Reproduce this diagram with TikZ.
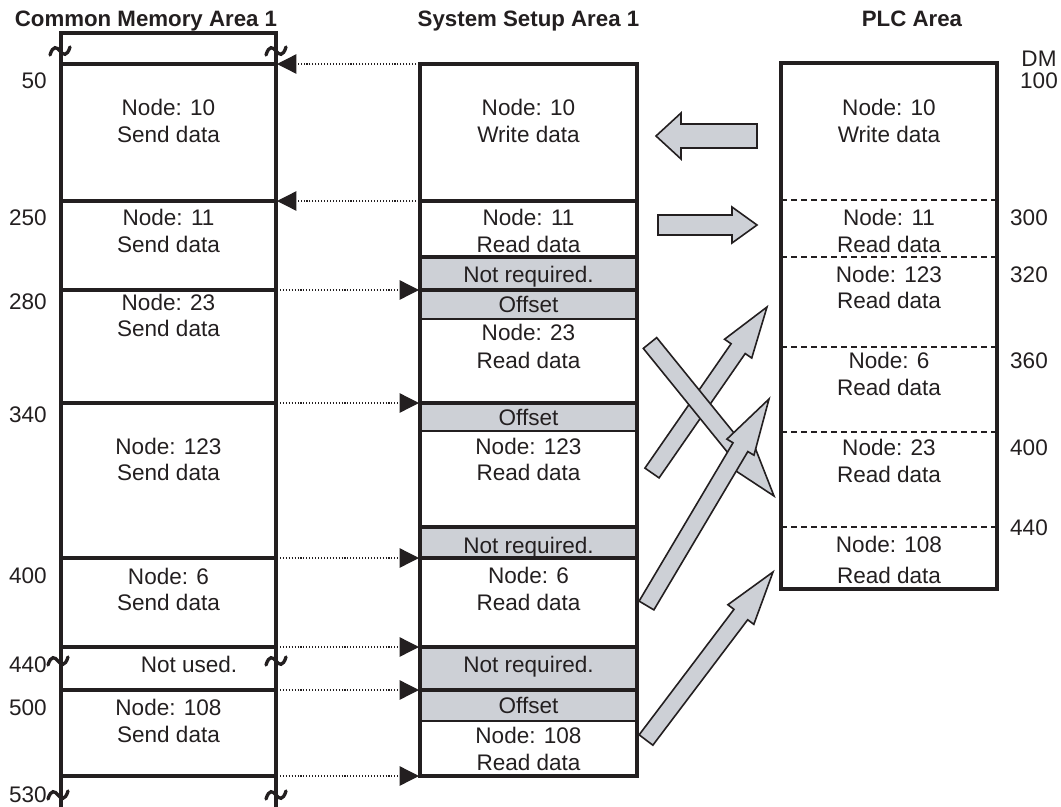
\documentclass[tikz,border=0pt]{standalone}
\usepackage{fontspec}
\setmainfont{Liberation Sans}
\usetikzlibrary{arrows.meta,calc}
\definecolor{ink}{RGB}{35,31,32}
\definecolor{fillg}{RGB}{205,208,214}
\newcommand\blockarr[5]{%
  \path ($(#2)!#5!(#1)$) coordinate (nk);
  \draw[blk] ($(#1)!#3!90:(#2)$) -- ($(nk)!#3!90:(#2)$) -- ($(nk)!#4!90:(#2)$) -- (#2)
    -- ($(nk)!#4!-90:(#2)$) -- ($(nk)!#3!-90:(#2)$) -- ($(#1)!#3!-90:(#2)$) -- cycle;}
\newcommand\tld[2]{%
  \draw[tldst] (#1-10,#2+4) .. controls (#1-7,#2-6) and (#1-3,#2-4) .. (#1,#2)
    .. controls (#1+3,#2+4) and (#1+7,#2+6) .. (#1+10,#2-4);}
\begin{document}
\begin{tikzpicture}[x=0.75pt,y=-0.75pt,
  every node/.style={text=ink,inner sep=0pt,font=\fontsize{16.9}{20}\selectfont},
  txt/.style={anchor=base},
  lbl/.style={anchor=base east},
  ttl/.style={anchor=base,font=\bfseries\fontsize{16.7}{20}\selectfont},
  thk/.style={line width=2.7pt,draw=ink},
  thn/.style={line width=1.5pt,draw=ink},
  dsh/.style={line width=1.1pt,draw=ink,dash pattern=on 4.5pt off 3pt},
  dotarrow/.style={line width=1pt,draw=ink,dash pattern=on 0.8pt off 1.4pt,
    -{Triangle[length=14.5pt,width=14.5pt]}},
  blk/.style={line width=1.2pt,draw=ink,fill=fillg,line join=miter},
  gbox/.style={fill=fillg,draw=none},
  tldst/.style={line width=2.5pt,draw=ink,line cap=round}]
\useasboundingbox (0,0) rectangle (1061,807);

% titles
\node[ttl] (t1) at (146,26) {Common Memory Area 1};
\node[ttl] (t2) at (528.5,26) {System Setup Area 1};
\node[ttl] (t3) at (912,26) {PLC Area};

% ---------- left column ----------
\draw[thk] (61,807) -- (61,33) -- (276,33) -- (276,807);
\foreach \yy in {64,201,290,403,558,647,690,776}
  \draw[thk] (61,\yy) -- (276,\yy);
\tld{60}{51}\tld{276}{51}
\tld{58}{661}\tld{276}{661}
\tld{58}{795}\tld{276}{795}

\node[lbl] (n50) at (47,88) {50};
\node[lbl] (n250) at (47,225) {250};
\node[lbl] (n280) at (47,309) {280};
\node[lbl] (n340) at (47,422) {340};
\node[lbl] (n400) at (47,583) {400};
\node[lbl] (n440) at (47,672) {440};
\node[lbl] (n500) at (47,715) {500};
\node[lbl] (n530) at (47,802) {530};

\node[txt] (l10a) at (168.5,115) {Node: 10};
\node[txt] (l10b) at (168.5,142) {Send data};
\node[txt] (l11a) at (168.5,225) {Node: 11};
\node[txt] (l11b) at (168.5,252) {Send data};
\node[txt] (l23a) at (168.5,310) {Node: 23};
\node[txt] (l23b) at (168.5,336) {Send data};
\node[txt] (l123a) at (168.5,454) {Node: 123};
\node[txt] (l123b) at (168.5,480) {Send data};
\node[txt] (l6a) at (168.5,584) {Node: 6};
\node[txt] (l6b) at (168.5,610) {Send data};
\node[txt] (lnu) at (189,672) {Not used.};
\node[txt] (l108a) at (168.5,715) {Node: 108};
\node[txt] (l108b) at (168.5,742) {Send data};

% ---------- middle column ----------
\fill[gbox] (420,257) rectangle (637,290);
\fill[gbox] (420,290) rectangle (637,319);
\fill[gbox] (420,403) rectangle (637,431);
\fill[gbox] (420,527) rectangle (637,558);
\fill[gbox] (420,647) rectangle (637,690);
\fill[gbox] (420,690) rectangle (637,721);
\foreach \yy in {201,257,290,403,527,558,647,690}
  \draw[thk] (420,\yy) -- (637,\yy);
\foreach \yy in {319,431,721}
  \draw[thn] (420,\yy) -- (637,\yy);
\draw[thk] (420,64) rectangle (637,776);

\node[txt] (m10a) at (528.5,115) {Node: 10};
\node[txt] (m10b) at (528.5,142) {Write data};
\node[txt] (m11a) at (528.5,225) {Node: 11};
\node[txt] (m11b) at (528.5,252) {Read data};
\node[txt] (mnr1) at (528.5,282) {Not required.};
\node[txt] (mof1) at (528.5,312) {Offset};
\node[txt] (m23a) at (528.5,340) {Node: 23};
\node[txt] (m23b) at (528.5,368) {Read data};
\node[txt] (mof2) at (528.5,425) {Offset};
\node[txt] (m123a) at (528.5,454) {Node: 123};
\node[txt] (m123b) at (528.5,480) {Read data};
\node[txt] (mnr2) at (528.5,553) {Not required.};
\node[txt] (m6a) at (528.5,583) {Node: 6};
\node[txt] (m6b) at (528.5,610) {Read data};
\node[txt] (mnr3) at (528.5,672) {Not required.};
\node[txt] (mof3) at (528.5,713) {Offset};
\node[txt] (m108a) at (528.5,743) {Node: 108};
\node[txt] (m108b) at (528.5,770) {Read data};

% ---------- right column ----------
\foreach \yy in {200,257,347,432,527}
  \draw[dsh] (781,\yy) -- (997,\yy);
\draw[thk] (781,63) rectangle (997,589);

\node[txt] (r10a) at (889,115) {Node: 10};
\node[txt] (r10b) at (889,142) {Write data};
\node[txt] (r11a) at (889,225) {Node: 11};
\node[txt] (r11b) at (889,252) {Read data};
\node[txt] (r123a) at (889,282) {Node: 123};
\node[txt] (r123b) at (889,308) {Read data};
\node[txt] (r6a) at (889,368) {Node: 6};
\node[txt] (r6b) at (889,395) {Read data};
\node[txt] (r23a) at (889,455) {Node: 23};
\node[txt] (r23b) at (889,482) {Read data};
\node[txt] (r108a) at (889,552) {Node: 108};
\node[txt] (r108b) at (889,583) {Read data};

\node[txt] (dm) at (1039,66) {DM};
\node[txt] (d100) at (1039,88) {100};
\node[txt] (d300) at (1029,225) {300};
\node[txt] (d320) at (1029,282) {320};
\node[txt] (d360) at (1029,368) {360};
\node[txt] (d400) at (1029,455) {400};
\node[txt] (d440) at (1029,535) {440};

% ---------- dotted arrows ----------
\foreach \yy in {64,201,290,403,558,647,690,776}{
  \coordinate (L\yy) at (277,\yy);
  \coordinate (M\yy) at (419,\yy);}
\draw[dotarrow] (M64) -- (L64);
\draw[dotarrow] (M201) -- (L201);
\foreach \yy in {290,403,558,647,690,776}
  \draw[dotarrow] (L\yy) -- (M\yy);

% ---------- block arrows ----------
\coordinate (wT) at (757,136); \coordinate (wH) at (656,136);
\blockarr{wT}{wH}{9pt}{17.25pt}{18.75pt}
\coordinate (rT) at (658,225); \coordinate (rH) at (757,225);
\blockarr{rT}{rH}{7.5pt}{13.5pt}{18.75pt}
\coordinate (aT) at (652,473); \coordinate (aH) at (767,307);
\blockarr{aT}{aH}{6.45pt}{12.4pt}{38pt}
\coordinate (bT) at (650,343); \coordinate (bH) at (774,496);
\blockarr{bT}{bH}{6.45pt}{12.4pt}{39pt}
\coordinate (cT) at (646.5,605.5); \coordinate (cH) at (769,399);
\blockarr{cT}{cH}{6.45pt}{11.8pt}{42pt}
\coordinate (dT) at (646,740); \coordinate (dH) at (773,572);
\blockarr{dT}{dH}{6.45pt}{12.2pt}{40pt}
\end{tikzpicture}
\end{document}
